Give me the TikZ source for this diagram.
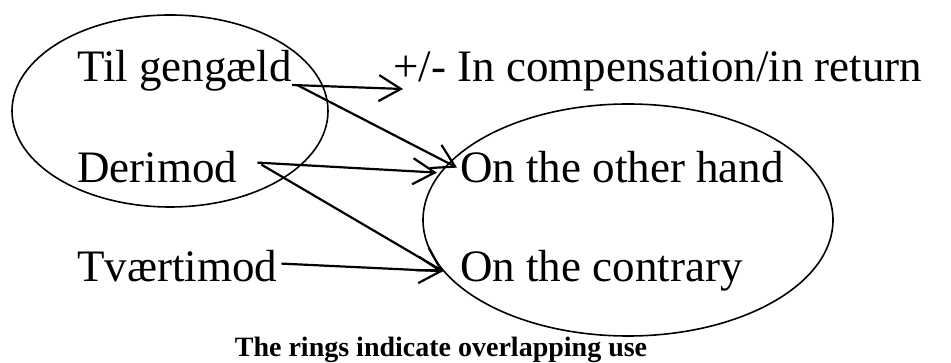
\documentclass[tikz,border=0pt]{standalone}
\usepackage{fontspec}
\setmainfont{Liberation Serif}
\usepackage{tikz}
\usetikzlibrary{arrows.meta,shapes.geometric}

\begin{document}
\begin{tikzpicture}[x=1pt,y=1pt,
  ord/.style={inner sep=0pt,anchor=base west,font=\fontsize{45}{50}\selectfont},
  ring/.style={draw,ellipse,inner sep=0pt,line width=1.6pt},
  pil/.style={line width=2.2pt,-{Straight Barb[length=22pt,width=26pt,line width=2.2pt]}}]
\useasboundingbox (0,0) rectangle (951,363);
% Ringe
\node[ring,minimum width=316pt,minimum height=192pt] (ringleft) at (170,252) {};
\node[ring,minimum width=410pt,minimum height=232pt] (ringright) at (628,143) {};
% Danske ord
\node[ord] (til) at (77,281) {Til gengæld};
\node[ord] (der) at (77,180) {Derimod};
\node[ord] (tva) at (77,81) {Tværtimod};
% Engelske ord
\node[ord] (ret) at (393,281) {+/- In compensation/in return};
\node[ord] (oth) at (460,180) {On the other hand};
\node[ord] (con) at (460,81) {On the contrary};
% Pile
\draw[pil] ([yshift=-3pt]til.base east) -- ([xshift=10pt,yshift=-7pt]ret.base west);
\draw[pil] ([xshift=5pt,yshift=-3pt]til.base east) -- ([xshift=-3pt]oth.west);
\draw[pil] ([xshift=20pt,yshift=5pt]der.east) -- ([xshift=-23pt,yshift=-5pt]oth.west);
\draw[pil] ([xshift=24pt,yshift=3pt]der.east) -- ([xshift=-17pt]con.west);
\draw[pil] ([xshift=4pt,yshift=3pt]tva.east) -- ([xshift=-17pt]con.west);
% Forklaring
\node[inner sep=0pt,anchor=base,font=\fontsize{28}{32}\selectfont\bfseries] (note) at (441,6) {The rings indicate overlapping use};
\end{tikzpicture}
\end{document}
